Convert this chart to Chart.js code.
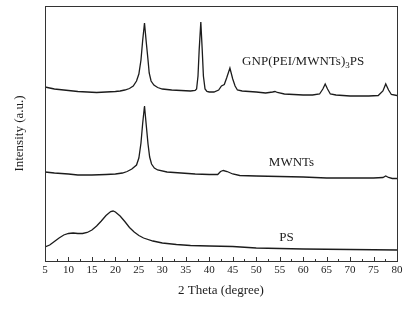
<!DOCTYPE html>
<html>
<head>
<meta charset="utf-8">
<script src="https://cdn.jsdelivr.net/npm/chart.js@4.4.1/dist/chart.umd.min.js"></script>
<style>
html,body{margin:0;padding:0;background:#fff;}
canvas{display:block;}
</style>
</head>
<body>
<canvas id="c" width="409" height="310"></canvas>
<script>
// ---- data (2θ in degrees, intensity in arbitrary units) ----
const gnpTheta = [5,6,7,8,10,12,14,16,18,20,21,22,23,23.8,24.5,25.0,25.45,25.8,26.2,26.55,26.95,27.2,27.6,28.2,29,30,32,34,36,37.0,37.3,37.6,37.85,38.2,38.5,38.75,39.1,39.5,40,41,42,42.6,43.2,43.7,44.4,45.0,45.5,46,47,50,52,53.5,54,54.5,56,58,60,62,63.5,64.2,64.7,65.2,65.8,67,70,74,76,77,77.6,78.2,78.8,80];
const gnpIntensity = [174,173,172,171.5,170.5,169.5,169,168.5,169,169.5,170,171,172.5,175,180,187,201,220,238,220,201,188,180,176,173.5,172,171,170.5,170,170.5,172,185,211,239,211,185,172,169.5,169,169,171,175,176.5,183,193,182,175,171,170,169,168,169,169.5,168.5,167,166.5,166,166,167,172,177,172,167,166,165,165,165.5,170,177,171,166.5,165.5];

const mwntTheta = [5,7,10,12,15,18,20,21.5,22.5,23.5,24.5,25.0,25.45,25.8,26.2,26.55,26.95,27.3,27.7,28.3,29,31,34,37,40,41.8,42.4,43,43.8,45,46.5,50,55,60,65,70,75,77,77.6,78.2,79,80];
const mwntIntensity = [89,88,87,86,86,86.5,87,88,89.5,92,96,103,118,137,155,137,117,104,97,93,91,89,88,87,86.5,86.5,89.5,90.5,89.5,87,85.5,85,84.5,84,83,83,83,83.5,85,83.5,82.5,82.5];

const psTheta = [5,6,7,8,9,10,11,12,13,14,15,16,17,18,19,19.5,20,21,22,23,24,25,26,28,30,33,36,40,45,50,55,60,70,80];
const psIntensity = [14,16,19.5,23,26,27.5,28,27.5,27.5,28.5,31,35,40,45.5,49.5,50,49,45,39.5,33.5,29,25.5,23,20,18,16.5,15.5,15,14.5,13,12.5,12,11.5,11];

const xTickValues = [5,10,15,20,25,30,35,40,45,50,55,60,65,70,75,80];
const minorTickValues = [7.5,12.5,17.5,22.5,27.5,32.5,37.5,42.5,47.5,52.5,57.5,62.5,67.5,72.5,77.5];

const seriesLabels = ['GNP(PEI/MWNTs)3PS','MWNTs','PS'];
// label anchor positions (data units)
const labelTheta = [47.0, 52.7, 54.9];
const labelIntensity = [199, 98, 23];

const pts = (xs, ys) => xs.map((x, i) => ({x: x, y: ys[i]}));

const serif = '"Liberation Serif", "Times New Roman", serif';
const ink = '#1c1c1c';

const framePlugin = {
  id: 'frameAndLabels',
  afterDraw(chart) {
    const ctx = chart.ctx;
    const a = chart.chartArea;
    const xs = chart.scales.x;
    const ys = chart.scales.y;
    ctx.save();
    // frame
    ctx.strokeStyle = '#333';
    ctx.lineWidth = 1;
    ctx.strokeRect(Math.round(a.left) + 0.5, Math.round(a.top) + 0.5, Math.round(a.right - a.left), Math.round(a.bottom - a.top));
    // inward ticks on bottom axis
    ctx.beginPath();
    xTickValues.concat(minorTickValues).forEach(v => {
      const px = Math.round(xs.getPixelForValue(v)) + 0.5;
      const len = xTickValues.includes(v) ? 4 : 2;
      ctx.moveTo(px, a.bottom);
      ctx.lineTo(px, a.bottom - len);
    });
    ctx.stroke();
    // series labels
    ctx.fillStyle = ink;
    ctx.textBaseline = 'middle';
    ctx.textAlign = 'left';
    const f = '13px ' + serif;
    const fs = '9px ' + serif;
    // GNP label with subscript
    let x0 = xs.getPixelForValue(labelTheta[0]);
    let y0 = ys.getPixelForValue(labelIntensity[0]);
    ctx.font = f;
    const partA = 'GNP(PEI/MWNTs)';
    ctx.fillText(partA, x0, y0);
    let w = ctx.measureText(partA).width;
    ctx.font = fs;
    ctx.fillText('3', x0 + w, y0 + 4);
    const w3 = ctx.measureText('3').width;
    ctx.font = f;
    ctx.fillText('PS', x0 + w + w3, y0);
    for (let i = 1; i < seriesLabels.length; i++) {
      ctx.fillText(seriesLabels[i], xs.getPixelForValue(labelTheta[i]), ys.getPixelForValue(labelIntensity[i]));
    }
    ctx.restore();
  }
};

const lineStyle = {borderColor: ink, borderWidth: 1.3, pointRadius: 0, tension: 0, fill: false};

new Chart(document.getElementById('c'), {
  type: 'line',
  data: {
    datasets: [
      Object.assign({label: seriesLabels[0], data: pts(gnpTheta, gnpIntensity)}, lineStyle),
      Object.assign({label: seriesLabels[1], data: pts(mwntTheta, mwntIntensity)}, lineStyle),
      Object.assign({label: seriesLabels[2], data: pts(psTheta, psIntensity)}, lineStyle)
    ]
  },
  options: {
    responsive: false,
    devicePixelRatio: 1,
    animation: false,
    parsing: true,
    layout: {padding: {top: 6, right: 12, bottom: 0, left: 0}},
    plugins: {legend: {display: false}, tooltip: {enabled: false}},
    scales: {
      x: {
        type: 'linear',
        min: 5, max: 80,
        afterBuildTicks(scale) { scale.ticks = xTickValues.map(v => ({value: v})); },
        afterFit(scale) { scale.height = 49; },
        grid: {display: false, drawTicks: false},
        border: {display: false},
        ticks: {
          autoSkip: false, maxRotation: 0, padding: 3,
          color: ink,
          font: {family: serif, size: 11}
        },
        title: {
          display: true, text: '2 Theta (degree)', color: ink,
          font: {family: serif, size: 13},
          padding: {top: 0, bottom: 12}
        }
      },
      y: {
        type: 'linear',
        min: 0, max: 255,
        afterFit(scale) { scale.width = 45; },
        grid: {display: false, drawTicks: false},
        border: {display: false},
        ticks: {display: false},
        title: {
          display: true, text: 'Intensity (a.u.)', color: ink,
          font: {family: serif, size: 13},
          padding: {top: 12, bottom: 0}
        }
      }
    }
  },
  plugins: [framePlugin]
});
</script>
</body>
</html>
